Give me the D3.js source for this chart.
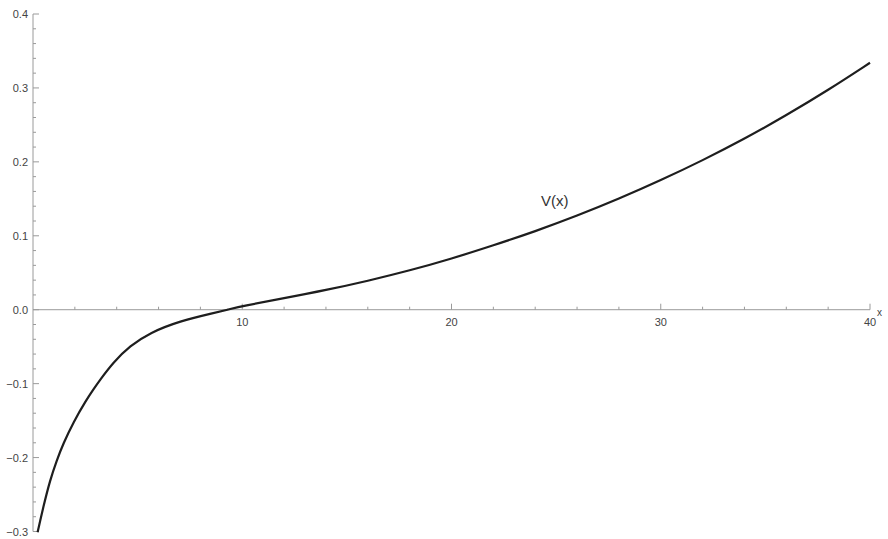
<!DOCTYPE html>
<html><head><meta charset="utf-8">
<script src="https://cdn.jsdelivr.net/npm/d3@7"></script>
<style>body{margin:0;background:#fff}svg{display:block}text{font-family:"Liberation Sans",Arial,sans-serif}</style>
</head><body><svg id="c" width="888" height="539"></svg>
<script>
const xs = [0.22,0.49,0.81,1.13,1.45,1.93,2.56,2.88,3.2,3.84,4.63,5.59,7.02,8.61,9.3,10,12,14,16,18,20,22,24,26,28,30,32,34,36,38,40];
const vs = [-0.301,-0.267,-0.231,-0.204,-0.181,-0.152,-0.1215,-0.108,-0.095,-0.071,-0.049,-0.031,-0.0153,-0.0045,0.0,0.005,0.0155,0.0265,0.039,0.053,0.069,0.087,0.106,0.127,0.150,0.175,0.202,0.231,0.263,0.297,0.334];
const xMajor = [10,20,30,40];
const yMajor = [-0.3,-0.2,-0.1,0.0,0.1,0.2,0.3,0.4];
const seriesLabel = "V(x)";
const xLabel = "x";

const svg = d3.select("#c");
const x = d3.scaleLinear().domain([0,40]).range([33,870]);
const y = d3.scaleLinear().domain([-0.3,0.4]).range([531.5,14]);
const axisCol = "#9a9a9a", txtCol = "#444";

// x axis
svg.append("line").attr("x1",x(0)).attr("x2",x(40)).attr("y1",y(0)).attr("y2",y(0)).attr("stroke",axisCol);
const xMinor = d3.range(2,40.01,2).filter(v=>!xMajor.includes(v));
svg.selectAll(".xmi").data(xMinor).join("line").attr("x1",d=>x(d)).attr("x2",d=>x(d)).attr("y1",y(0)).attr("y2",y(0)-3).attr("stroke",axisCol);
svg.selectAll(".xma").data(xMajor).join("line").attr("x1",d=>x(d)).attr("x2",d=>x(d)).attr("y1",y(0)).attr("y2",y(0)-6).attr("stroke",axisCol);
svg.selectAll(".xl").data(xMajor).join("text").attr("x",d=>x(d)).attr("y",y(0)+16).attr("text-anchor","middle").attr("font-size",11).attr("fill",txtCol).text(d=>d);
svg.append("text").attr("x",877).attr("y",y(0)+6).attr("font-size",10).attr("fill",txtCol).text(xLabel);

// y axis
svg.append("line").attr("x1",x(0)).attr("x2",x(0)).attr("y1",y(-0.3)).attr("y2",y(0.4)).attr("stroke",axisCol);
const yMinor = d3.range(-0.3,0.401,0.02).map(v=>+v.toFixed(2)).filter(v=>!yMajor.some(m=>Math.abs(m-v)<1e-9));
svg.selectAll(".ymi").data(yMinor).join("line").attr("x1",x(0)).attr("x2",x(0)+3).attr("y1",d=>y(d)).attr("y2",d=>y(d)).attr("stroke",axisCol);
svg.selectAll(".yma").data(yMajor).join("line").attr("x1",x(0)).attr("x2",x(0)+6).attr("y1",d=>y(d)).attr("y2",d=>y(d)).attr("stroke",axisCol);
svg.selectAll(".yl").data(yMajor).join("text").attr("x",x(0)-5).attr("y",d=>y(d)+4).attr("text-anchor","end").attr("font-size",11).attr("fill",txtCol).text(d=>d.toFixed(1).replace("-","\u2212"));

// curve
const pts = xs.map((v,i)=>[v,vs[i]]);
svg.append("path").datum(pts).attr("fill","none").attr("stroke","#1e1e1e").attr("stroke-width",2.2)
  .attr("d",d3.line().x(d=>x(d[0])).y(d=>y(d[1])).curve(d3.curveBasis));
svg.append("text").attr("x",541).attr("y",206).attr("font-size",15).attr("fill","#333").text(seriesLabel);
</script></body></html>
